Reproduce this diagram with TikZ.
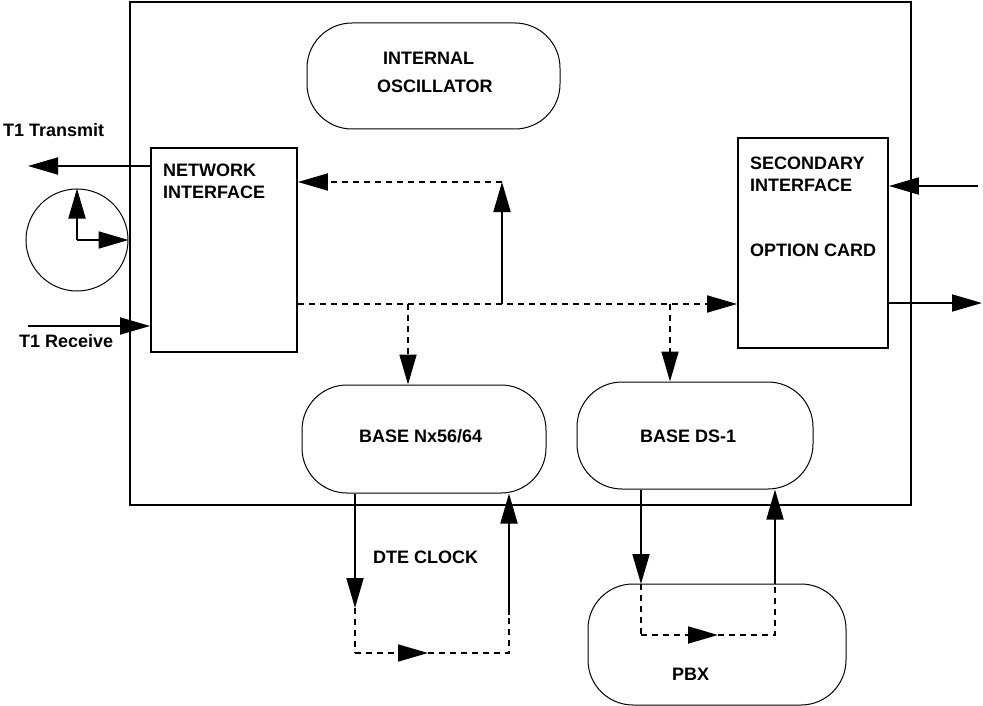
\documentclass[tikz,border=0pt]{standalone}
\usepackage{fontspec}
\setmainfont{Liberation Sans}
\usetikzlibrary{arrows.meta}

\begin{document}
\begin{tikzpicture}[x=1pt,y=-1pt,
  lbl/.style={font=\bfseries\fontsize{18}{21}\selectfont, anchor=base west, inner sep=0pt},
  sqbox/.style={draw, line width=1.8pt, inner sep=0pt},
  pill/.style={draw, line width=1pt, rounded corners=45pt, inner sep=0pt},
  wire/.style={line width=1.8pt},
  dwire/.style={line width=1.8pt, dash pattern=on 6pt off 5pt},
  tip/.style={-{Triangle[length=30pt,width=17pt]}},
]
\useasboundingbox (0,0) rectangle (983,706);
\fill[white] (0,0) rectangle (983,706);

% enclosure and functional blocks
\node[sqbox, minimum width=781pt, minimum height=503pt] (chassis) at (520.5,253.5) {};
\node[sqbox, fill=white, minimum width=146pt, minimum height=204pt] (net) at (224,250) {};
\node[sqbox, fill=white, minimum width=150pt, minimum height=210pt] (sec) at (813,243) {};
\node[pill, minimum width=253pt, minimum height=106pt] (osc) at (433.5,76) {};
\node[pill, minimum width=244pt, minimum height=108pt] (nx) at (424,439) {};
\node[pill, minimum width=236pt, minimum height=107pt] (ds) at (695,435.5) {};
\node[pill, minimum width=258pt, minimum height=121pt] (pbx) at (717,644.5) {};
\node[draw, circle, line width=1pt, minimum size=102pt, inner sep=0pt] (clk) at (77,240) {};

% block labels
\node[lbl] (tTx) at (3,137) {T1 Transmit};
\node[lbl] (tRx) at (19,347) {T1 Receive};
\node[lbl] (tNet1) at (163,177) {NETWORK};
\node[lbl] (tNet2) at (163,198) {INTERFACE};
\node[lbl] (tOsc1) at (383,65) {INTERNAL};
\node[lbl] (tOsc2) at (377,93) {OSCILLATOR};
\node[lbl] (tSec1) at (750,170) {SECONDARY};
\node[lbl] (tSec2) at (750,192) {INTERFACE};
\node[lbl] (tSec3) at (750,256) {OPTION CARD};
\node[lbl] (tNx) at (359,442) {BASE Nx56/64};
\node[lbl] (tDs) at (640,442) {BASE DS-1};
\node[lbl] (tDte) at (373,563) {DTE CLOCK};
\node[lbl] (tPbx) at (672,680) {PBX};

% clock symbol hands
\draw[wire,tip] (clk.center) -- (clk.north);
\draw[wire,tip] (clk.center) -- (clk.east);

% T1 line
\coordinate (txend) at (28,166);
\coordinate (rxstart) at (28,326);
\draw[wire,tip] (net.west |- txend) -- (txend);
\draw[wire,tip] (rxstart) -- (rxstart -| net.west);

% internal timing bus
\coordinate (bus) at (0,304);
\coordinate (drop1) at (408,304);
\coordinate (drop2) at (670,304);
\coordinate (tap) at (502,304);
\coordinate (tapTop) at (502,182);
\draw[dwire,tip] (net.east |- bus) -- (sec.west |- bus);
\draw[dwire,tip] (drop1) -- (drop1 |- nx.north);
\draw[dwire,tip] (drop2) -- (drop2 |- ds.north);
\draw[wire,tip] (tap) -- (tapTop);
\draw[dwire,tip] (tapTop) -- (tapTop -| net.east);

% secondary interface I/O
\coordinate (secin) at (978,186);
\coordinate (secout) at (982,303);
\draw[wire,tip] (secin) -- (secin -| sec.east);
\draw[wire,tip] (secout -| sec.east) -- (secout);

% DTE clock loop
\coordinate (d1) at (355,608);
\coordinate (d2) at (355,653);
\coordinate (dmid) at (428,653);
\coordinate (d3) at (509,653);
\coordinate (d4) at (509,615);
\draw[wire,tip] (d1 |- nx.south) -- (d1);
\draw[dwire] (d1) -- (d2);
\draw[dwire,tip] (d2) -- (dmid);
\draw[dwire] (dmid) -- (d3) -- (d4);
\draw[wire,tip] (d4) -- (d4 |- nx.south);

% PBX loop
\coordinate (p1) at (641,584);
\coordinate (p2) at (641,635);
\coordinate (pmid) at (718,635);
\coordinate (p3) at (775,635);
\coordinate (p4) at (775,584);
\draw[wire,tip] (p1 |- ds.south) -- (p1);
\draw[dwire] (p1) -- (p2);
\draw[dwire,tip] (p2) -- (pmid);
\draw[dwire] (pmid) -- (p3) -- (p4);
\draw[wire,tip] (p4) -- (p4 |- ds.south);
\end{tikzpicture}
\end{document}
